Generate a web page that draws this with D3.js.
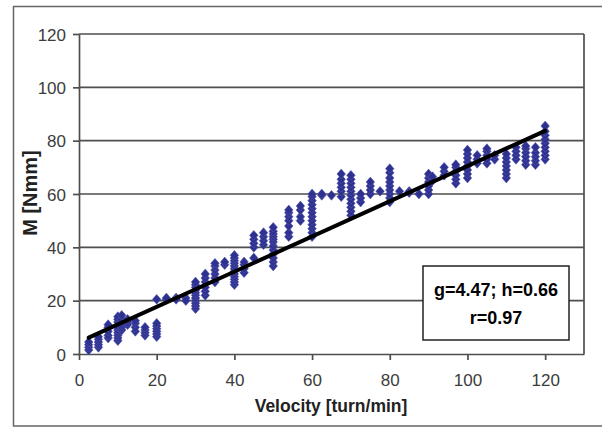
<!DOCTYPE html>
<html>
<head>
<meta charset="utf-8">
<script src="https://cdn.jsdelivr.net/npm/d3@7"></script>
<style>
  body { margin: 0; background: #fff; }
  svg { display: block; font-family: "Liberation Sans", Arial, sans-serif; }
</style>
</head>
<body>
<div id="chart"></div>
<script>
var width = 602;
var height = 428;

// measured velocities and the torque readings taken at each one
var velocities = [2.5, 5, 7.5, 10, 11, 12.5, 14.5, 17, 20, 22.5, 25, 27.5, 30, 32.5, 35, 37.5,
  40, 42.5, 45, 47.5, 50, 54, 57, 60, 62.5, 65, 67.5, 70, 72.5, 75, 77.5, 80, 82.5, 85,
  87.5, 90, 91, 94, 97, 100, 102.5, 105, 107, 110, 112.5, 115, 117.5, 120];
var torques = [
  [1.5, 2.5, 3.5, 4.5],
  [2.5, 3.5, 4.5, 5.5, 6.5],
  [6, 7, 8.5, 10, 11],
  [5, 6, 7, 8, 9, 10, 11, 12, 13, 14],
  [9, 10, 11, 12, 13, 14.5],
  [11, 12, 13],
  [8.5, 10, 11.5, 12.5],
  [7, 8, 9, 10],
  [6.5, 7.5, 8.5, 9.5, 10.5, 11.5, 20.5],
  [20.5, 21],
  [21, 20.5],
  [21, 20],
  [17, 18, 19, 20, 21, 22, 23, 24, 25, 26, 27],
  [22, 23.5, 25, 27, 28.5, 30],
  [27, 28.5, 30, 31.5, 33, 34],
  [33.5, 34.5],
  [26, 27, 28, 29, 30, 31, 32, 33, 34, 35, 36, 37],
  [30.5, 32, 33.5, 34.5],
  [36, 40, 41.5, 43, 44.5],
  [41, 42.5, 44, 45.5],
  [33, 34.5, 36, 37.5, 39, 40.5, 42, 43, 44, 45, 46, 47.5],
  [44, 45.5, 48, 50, 51.5, 53, 54],
  [50, 51.5, 54, 55.5],
  [44, 45.5, 47, 48.5, 50, 51.5, 53, 54.5, 56, 57.5, 59, 60],
  [59.5, 60],
  [59.5],
  [59, 61, 62.5, 64, 65.5, 67.5],
  [52, 53.5, 55, 56.5, 58, 59.5, 61, 62.5, 64, 65.5, 67],
  [57, 58.5, 60],
  [60, 61.5, 63, 64.5],
  [61],
  [57, 58.5, 60, 61.5, 63, 64.5, 66, 68, 69.5],
  [61],
  [61, 60.5],
  [60],
  [60, 61.5, 63, 64.5, 66, 67.5],
  [65, 66.5],
  [67, 68.5, 70],
  [64, 65.5, 67, 68.5, 70, 71],
  [66, 67.5, 69, 70.5, 72, 73.5, 75, 76.5],
  [71.5, 73, 74.5],
  [71.5, 73, 74.5, 76, 77],
  [73, 74.5],
  [66, 67.5, 69, 70.5, 72, 73.5, 75],
  [73, 74.5, 76, 77.5],
  [71, 72.5, 74, 75.5, 77, 78],
  [71, 72.5, 74, 75.5, 77.5],
  [73, 74.5, 76, 77.5, 79, 80.5, 82, 83.5, 85.5]
];
// linear fit M = g + h * v
var fitG = 4.47;
var fitH = 0.66;
var fitR = 0.97;
var fitRange = [2.5, 120];
var xTicks = [0, 20, 40, 60, 80, 100, 120];
var yTicks = [0, 20, 40, 60, 80, 100, 120];

var points = [];
velocities.forEach(function(v, i) {
  torques[i].forEach(function(m) { points.push({ v: v, m: m }); });
});

var svg = d3.select('#chart').append('svg')
  .attr('width', width)
  .attr('height', height);

// outer chart frame
svg.append('rect')
  .attr('x', 13.5).attr('y', 6.5)
  .attr('width', 600).attr('height', 419.5)
  .attr('fill', 'none')
  .attr('stroke', '#666')
  .attr('stroke-width', 1.5);

var x = d3.scaleLinear().domain([0, 130]).range([79, 584]);
var y = d3.scaleLinear().domain([0, 120]).range([354, 34]);

// gridlines
svg.append('g').selectAll('line')
  .data(yTicks.filter(function(t) { return t > 0; }))
  .enter().append('line')
  .attr('x1', x(0)).attr('x2', x(130))
  .attr('y1', function(d) { return y(d); })
  .attr('y2', function(d) { return y(d); })
  .attr('stroke', '#4e4e4e')
  .attr('stroke-width', 1.7);

// right border of the plot
svg.append('line')
  .attr('x1', x(130)).attr('x2', x(130))
  .attr('y1', y(120)).attr('y2', y(0))
  .attr('stroke', '#4e4e4e')
  .attr('stroke-width', 1.7);

var xAxis = svg.append('g')
  .attr('transform', 'translate(0,' + y(0) + ')')
  .call(d3.axisBottom(x).tickValues(xTicks).tickSize(6).tickPadding(14).tickSizeOuter(0));
var yAxis = svg.append('g')
  .attr('transform', 'translate(' + x(0) + ',0)')
  .call(d3.axisLeft(y).tickValues(yTicks).tickSize(6).tickPadding(7).tickSizeOuter(0));

[xAxis, yAxis].forEach(function(a) {
  a.select('.domain').attr('stroke', '#4e4e4e').attr('stroke-width', 1.7);
  a.selectAll('.tick line').attr('stroke', '#4e4e4e').attr('stroke-width', 1.7);
  a.selectAll('.tick text')
    .attr('fill', '#3c3c3c')
    .style('font-size', '17px')
    .style('font-family', '"Liberation Sans", Arial, sans-serif');
});
yAxis.selectAll('.tick text').attr('dy', '0.36em');

// diamond marker
var diamond = {
  draw: function(ctx, size) {
    var w = Math.sqrt(size) * 0.5;
    var h = w * 1.15;
    ctx.moveTo(0, -h);
    ctx.lineTo(w, 0);
    ctx.lineTo(0, h);
    ctx.lineTo(-w, 0);
    ctx.closePath();
  }
};

svg.append('g').selectAll('path')
  .data(points)
  .enter().append('path')
  .attr('d', d3.symbol().type(diamond).size(72))
  .attr('transform', function(d) { return 'translate(' + x(d.v) + ',' + y(d.m) + ')'; })
  .attr('fill', '#2e3190')
  .attr('stroke', '#5256ad')
  .attr('stroke-width', 0.6);

// trend line
svg.append('line')
  .attr('x1', x(fitRange[0])).attr('y1', y(fitG + fitH * fitRange[0]))
  .attr('x2', x(fitRange[1])).attr('y2', y(fitG + fitH * fitRange[1]))
  .attr('stroke', '#000')
  .attr('stroke-width', 4)
  .attr('stroke-linecap', 'round');

// fit box
svg.append('rect')
  .attr('x', 423).attr('y', 266)
  .attr('width', 146).attr('height', 74)
  .attr('fill', '#fff')
  .attr('stroke', '#222')
  .attr('stroke-width', 1.5);
svg.append('text')
  .attr('x', 496).attr('y', 296)
  .attr('text-anchor', 'middle')
  .style('font-size', '18px').style('font-weight', 'bold')
  .text('g=' + fitG + '; h=' + fitH);
svg.append('text')
  .attr('x', 496).attr('y', 324)
  .attr('text-anchor', 'middle')
  .style('font-size', '18px').style('font-weight', 'bold')
  .text('r=' + fitR);

// axis titles
svg.append('text')
  .attr('x', 331).attr('y', 412)
  .attr('text-anchor', 'middle')
  .attr('fill', '#222')
  .style('font-size', '17.5px').style('font-weight', 'bold')
  .text('Velocity [turn/min]');
svg.append('text')
  .attr('transform', 'translate(37,193) rotate(-90)')
  .attr('text-anchor', 'middle')
  .attr('fill', '#222')
  .style('font-size', '20px').style('font-weight', 'bold')
  .text('M [Nmm]');
</script>
</body>
</html>
